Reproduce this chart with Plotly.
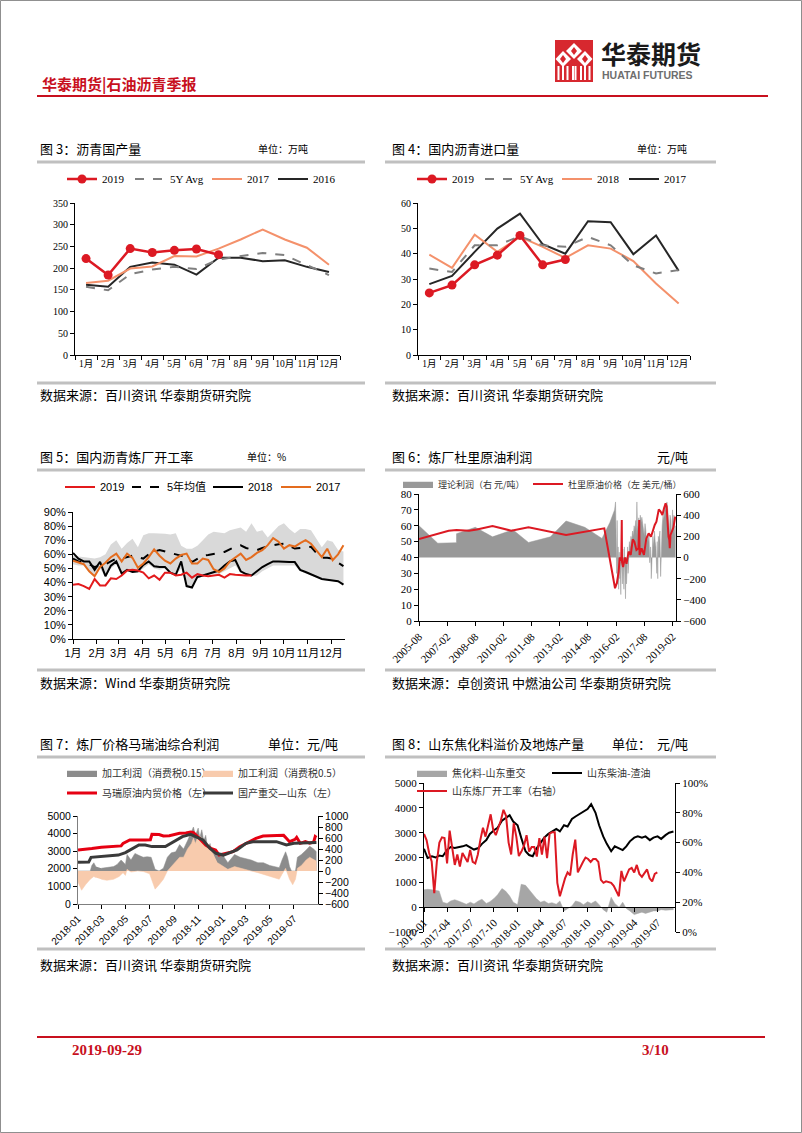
import plotly.graph_objects as go
import pandas as pd

W, H = 802, 1133
def X(px): return px / W
def Y(py): return 1 - py / H

SERIF = "Liberation Serif, Noto Sans CJK SC"
SANS = "Liberation Sans, Noto Sans CJK SC"
CJK = "Noto Sans CJK SC"
RED = "#DC1923"

# ---------------- data ----------------
months = ['1月', '2月', '3月', '4月', '5月', '6月', '7月', '8月', '9月', '10月', '11月', '12月']

# Fig 3 沥青国产量
c3_2019 = [222, 184, 245, 236, 241, 244, 231]
c3_5y = [157, 149, 186, 197, 203, 198, 220, 227, 235, 230, 207, 184]
c3_2017 = [166, 171, 199, 204, 228, 227, 245, 266, 289, 266, 247, 208]
c3_2016 = [162, 157, 203, 213, 208, 185, 224, 224, 216, 218, 203, 191]

# Fig 4 国内沥青进口量
c4_2019 = [24.5, 27.6, 35.6, 39.4, 47.2, 35.6, 37.7]
c4_5y = [34.1, 32.8, 43.3, 43.3, 46.9, 43.3, 42.7, 46.6, 43.3, 35.4, 32.2, 33.5]
c4_2018 = [39.6, 34.4, 47.5, 40.7, 46.6, 42.7, 38.3, 43.3, 42.0, 37.1, 28.2, 20.3]
c4_2017 = [28.0, 31.2, 40.7, 49.9, 55.8, 43.7, 40.0, 52.8, 52.4, 39.8, 47.2, 33.2]

# Fig 5 国内沥青炼厂开工率 (weekly, %)
c5_2019 = [38.5, 39, 37.5, 35.5, 42.5, 38, 38, 43, 42.5, 45, 48.5, 49, 48.5, 47, 43, 45, 42,
           47, 47, 45, 45.5, 47, 43.5, 46, 45, 44.5, 45, 45.5, 43.5, 46, 45.5, 45, 45, 45]
c5_avg = [57, 55, 54, 53, 51, 52, 53, 55, 57, 57, 58, 59, 58, 57, 60, 62, 63, 62, 61, 60, 59.5,
          58, 54.5, 57, 59, 59.5, 60, 61, 61.7, 63.5, 65.5, 66.4, 64.5, 63.5, 63, 64.5, 65.7,
          66.5, 67.2, 67.6, 66, 64.1, 64.5, 65, 65.3, 61, 57.7, 57.5, 57, 54, 51.6]
c5_2018 = [61, 57, 55, 55, 49, 54.7, 44.5, 52, 55, 46.4, 49, 47.5, 48, 52.5, 55, 51.5, 51, 51, 47,
           45.5, 55, 37.5, 36.5, 44, 45, 46, 47.5, 48.5, 52, 55, 56, 48, 46, 45, 48, 51, 53, 55,
           55, 54.5, 54.5, 54.5, 49, 47.5, 46, 44, 42.5, 42, 41.5, 41, 38.5]
c5_2017 = [55.4, 54, 53, 48, 44.5, 51, 54, 58, 60.5, 55, 60.5, 57.5, 50.5, 53.5, 58, 63.5, 59,
           55.5, 53.5, 57, 59.5, 60.5, 53.5, 53.5, 57, 56, 49.5, 47.5, 50, 55, 58, 60.5, 56, 58,
           61, 63, 66.5, 71.5, 69, 64, 66.5, 65.5, 68, 70, 67.5, 63, 58, 64, 55.8, 60, 66.4]
c5_hi = [59, 58.5, 58, 58, 57, 58, 60, 67, 70, 64, 68, 71, 65, 73.5, 75, 75, 75, 74.5, 74, 75, 66,
         64, 64, 66, 70, 74, 76, 75.5, 75, 77, 78, 79, 76, 82, 76, 77, 72, 76, 80, 82, 78, 75,
         78, 78, 77, 71, 65, 70, 69, 63, 62]
c5_lo = [53, 52, 52, 47, 44, 50, 44, 50, 53, 46, 48, 47, 47, 50, 53, 50, 49, 50, 46, 45, 50, 37.5,
         36.5, 43, 44.5, 45.5, 46, 46, 48, 50, 52, 47, 45, 44.5, 45, 48, 50, 52, 52, 52, 52, 52,
         48, 46.5, 45.5, 43.5, 42, 41.5, 41, 40.5, 38]

# Fig 6 炼厂杜里原油利润
c6_price_dates = ['2005-08-01', '2007-03-01', '2007-08-01', '2008-04-01', '2008-09-01', '2009-07-01',
                  '2010-07-01', '2011-06-01', '2013-06-01', '2015-05-01', '2015-06-15', '2016-01-10',
                  '2016-02-15', '2016-03-20', '2016-04-10', '2016-05-10', '2016-05-20', '2016-05-25',
                  '2016-06-15', '2016-07-20', '2016-08-20', '2016-10-01', '2016-11-10', '2016-12-20',
                  '2017-01-20', '2017-03-01', '2017-04-10', '2017-04-25', '2017-05-01', '2017-06-10',
                  '2017-07-25', '2017-09-10', '2017-10-25', '2017-12-10', '2018-01-15', '2018-02-20',
                  '2018-03-25', '2018-04-20', '2018-05-10', '2018-06-15', '2018-07-20', '2018-08-20',
                  '2018-09-20', '2018-10-10', '2018-10-25', '2018-11-15', '2018-12-01', '2018-12-10',
                  '2018-12-25', '2019-01-25', '2019-02-20', '2019-03-25']
c6_price = [51.6, 56.9, 57.3, 56.9, 57.7, 59.8, 56.9, 59.0, 54.2, 58.4, 58.4, 20.6,
            24, 31, 40, 38, 63.6, 37, 34, 40, 36, 43.7, 41.6, 51.4,
            50, 44.7, 45.8, 63.6, 41.6, 45.8, 41.6, 52, 55.2, 53.1, 57.3, 60.5,
            62.6, 67.4, 70.3, 68.9, 66.8, 71, 74.1, 72, 62.6, 53.1, 51, 45.8,
            54.2, 57.3, 59, 65.7]
c6_profit_dates = ['2005-08-01', '2006-08-01', '2007-07-31', '2007-08-01', '2008-08-01', '2009-07-01',
                   '2010-08-01', '2011-06-01', '2012-08-01', '2013-06-01', '2014-06-01', '2015-05-01',
                   '2015-10-01', '2016-01-01', '2016-01-20', '2016-02-01', '2016-02-10', '2016-02-20',
                   '2016-03-01', '2016-03-10', '2016-03-20', '2016-04-01', '2016-04-10', '2016-04-20',
                   '2016-05-01', '2016-05-10', '2016-05-20', '2016-06-01', '2016-06-10', '2016-06-20',
                   '2016-07-01', '2016-07-10', '2016-07-20', '2016-08-01', '2016-08-10', '2016-08-20',
                   '2016-09-01', '2016-09-10', '2016-09-20', '2016-10-01', '2016-10-15', '2016-11-01',
                   '2016-11-15', '2016-12-01', '2016-12-15', '2017-01-01', '2017-01-15', '2017-02-01',
                   '2017-02-15', '2017-03-01', '2017-03-10', '2017-03-20', '2017-04-01', '2017-04-15',
                   '2017-05-01', '2017-05-15', '2017-06-01', '2017-06-15', '2017-07-01', '2017-07-15',
                   '2017-08-01', '2017-08-15', '2017-09-01', '2017-09-15', '2017-10-01', '2017-10-15',
                   '2017-11-01', '2017-11-15', '2017-12-01', '2017-12-15', '2018-01-01', '2018-01-15',
                   '2018-02-01', '2018-02-15', '2018-03-01', '2018-03-15', '2018-04-01', '2018-04-10',
                   '2018-04-20', '2018-05-01', '2018-05-15', '2018-06-01', '2018-06-15', '2018-07-01',
                   '2018-07-15', '2018-08-01', '2018-08-15', '2018-09-01', '2018-09-15', '2018-10-01',
                   '2018-10-15', '2018-11-01', '2018-11-15', '2018-12-01', '2018-12-15', '2019-01-01',
                   '2019-01-15', '2019-02-01', '2019-02-15', '2019-03-01', '2019-03-15', '2019-04-01']
c6_profit = [300, 135, 140, 225, 285, 195,
             262, 142, 195, 345, 285, 180,
             330, 450, 525, 200, -150, 350,
             -250, 100, -300, 50, -200, 0,
             -350, 50, -100, -250, 80, -150,
             -300, 100, -200, -390, 0, -250,
             -100, 100, -150, 50, 150, 100,
             200, 150, 250, 200, 300, 250,
             350, 200, 525, 300, 250, 375,
             300, 400, 330, 380, 300, 250,
             200, 320, 250, 100, 200, 150,
             220, -50, 100, -200, 150, 200,
             100, 250, 150, 100, -150, 150,
             -200, 200, 150, 250, -180, 200,
             300, 400, 350, 450, 500, 430,
             525, 450, 300, 200, 400, 350,
             150, 450, 300, 400, 200, 300]

# Fig 7 炼厂价格马瑞油综合利润
c7_red_dates = ['2018-01-01', '2018-01-20', '2018-02-05', '2018-03-01', '2018-04-20', '2018-04-25',
                '2018-05-12', '2018-06-20', '2018-07-03', '2018-07-07', '2018-07-25', '2018-08-05',
                '2018-08-20', '2018-09-15', '2018-10-01', '2018-10-13', '2018-10-20', '2018-11-04',
                '2018-11-20', '2018-12-03', '2018-12-15', '2018-12-24', '2019-01-10', '2019-01-28',
                '2019-02-14', '2019-03-10', '2019-03-27', '2019-04-14', '2019-05-10', '2019-05-27',
                '2019-06-05', '2019-06-12', '2019-06-20', '2019-07-04', '2019-07-08', '2019-07-17',
                '2019-07-30', '2019-08-10', '2019-08-20', '2019-08-24', '2019-08-27']
c7_red = [3068, 3100, 3150, 3220, 3300, 3447,
          3636, 3636, 3650, 3958, 3950, 3863,
          3880, 4015, 4030, 4090, 4060, 3730,
          3350, 3160, 3068, 2784, 2878, 2973,
          3257, 3541, 3730, 3863, 3880, 3920,
          3900, 3730, 3541, 3674, 3788, 3447,
          3540, 3450, 3520, 3830, 3780]
c7_blk_dates = ['2018-01-01', '2018-01-28', '2018-02-03', '2018-04-13', '2018-05-01', '2018-05-21',
                '2018-06-04', '2018-06-20', '2018-07-07', '2018-08-10', '2018-09-01', '2018-09-22',
                '2018-10-13', '2018-10-27', '2018-11-13', '2018-12-01', '2018-12-16', '2019-01-04',
                '2019-02-07', '2019-03-02', '2019-03-19', '2019-05-18', '2019-06-12', '2019-07-01',
                '2019-08-27']
c7_blk = [2370, 2380, 2650, 2780, 2920, 3200,
          3350, 3350, 3260, 3260, 3540, 3825,
          3960, 3825, 3640, 3160, 2880, 2780,
          3070, 3450, 3540, 3540, 3350, 3450,
          3500]
c7_g_dates = ['2018-01-01', '2018-02-01', '2018-02-05', '2018-02-10', '2018-02-15', '2018-02-18',
              '2018-03-01', '2018-03-15', '2018-04-01', '2018-04-10', '2018-04-20', '2018-05-01',
              '2018-05-05', '2018-05-15', '2018-05-25', '2018-06-05', '2018-06-15', '2018-06-25',
              '2018-07-05', '2018-07-15', '2018-07-25', '2018-08-05', '2018-08-15', '2018-08-25',
              '2018-09-05', '2018-09-15', '2018-09-25', '2018-10-05', '2018-10-15', '2018-10-20',
              '2018-10-25', '2018-11-01', '2018-11-05', '2018-11-10', '2018-11-15', '2018-11-20',
              '2018-11-25', '2018-12-01', '2018-12-05', '2018-12-10', '2018-12-12', '2018-12-20',
              '2019-01-01', '2019-01-15', '2019-02-01', '2019-02-15', '2019-03-01', '2019-03-15',
              '2019-04-01', '2019-04-15', '2019-05-01', '2019-05-15', '2019-05-25', '2019-06-01',
              '2019-06-10', '2019-06-15', '2019-06-20', '2019-06-25', '2019-07-05', '2019-07-10',
              '2019-07-20', '2019-08-01', '2019-08-10', '2019-08-20', '2019-08-27']
c7_g = [0, 0, 100, 150, 80, None,
        50, 60, 80, 120, 200, 120,
        300, 200, 320, 280, 250, 260,
        250, 30, 0, 50, 250, 330,
        350, 480, 400, 550, 700, 800,
        650, 780, 600, 750, 550, 650,
        400, 500, 350, 400, None, 300,
        300, 150, 300, 250, 230, 200,
        150, 150, 100, 80, 60, 200,
        350, 250, 80, 0, 0, 250,
        300, 380, 450, 400, 350]
c7_p_dates = ['2018-01-01', '2018-01-10', '2018-01-20', '2018-02-01', '2018-02-10', '2018-02-15',
              '2018-02-18', '2018-03-01', '2018-03-15', '2018-04-01', '2018-04-15', '2018-04-25',
              '2018-05-01', '2018-05-05', '2018-05-15', '2018-06-01', '2018-06-15', '2018-07-01',
              '2018-07-10', '2018-07-15', '2018-07-25', '2018-08-05', '2018-08-15', '2018-08-25',
              '2018-09-05', '2018-09-15', '2018-09-25', '2018-10-05', '2018-10-15', '2018-10-20',
              '2018-10-25', '2018-11-01', '2018-11-10', '2018-11-20', '2018-12-01', '2018-12-10',
              '2018-12-12', '2018-12-20', '2019-01-01', '2019-01-15', '2019-02-01', '2019-02-15',
              '2019-03-01', '2019-03-15', '2019-04-01', '2019-04-15', '2019-05-01', '2019-05-15',
              '2019-05-25', '2019-06-01', '2019-06-10', '2019-06-20', '2019-06-28', '2019-07-05',
              '2019-07-10', '2019-07-20', '2019-08-01', '2019-08-10', '2019-08-20', '2019-08-27']
c7_p = [-200, -350, -250, -150, -100, -120,
        None, -150, -170, -150, -100, -30,
        -80, 30, -20, 0, -10, -50,
        -250, -330, -250, -150, 0, 80,
        150, 250, 250, 400, 500, 600,
        500, 650, 600, 500, 400, 300,
        None, 150, 100, 30, 80, 50,
        20, 0, -30, -60, -100, -120,
        -150, -60, 50, -150, -250, -150,
        50, 100, 200, 250, 200, 180]

# Fig 8 山东焦化料溢价及地炼产量 (semi-monthly from 2017-01; rate every 10 days)
c8_coke = [700, 720, 700, 690, 650, 200, 150, 250, 300, 250, 180, 120, 200, 130, 250, 320,
           150, 220, 350, 500, 750, 650, 450, 200, 100, 920, 880, 700, 500, 350, 200, 250,
           150, 180, 120, 250, -150, -50, 50, 250, 200, 100, 220, 150, 250, 100, -100, -200,
           400, 150, 0, 200, -50, -150, -300, -250, -200, -250, -200, -150, -150, -100, -120,
           -100, -100]
c8_spread = [2350, 1980, 2050, 2000, 2080, 2050, 2300, 2420, 2380, 2400, 2450, 2500, 2420, 2320,
             2380, 2550, 2700, 2950, 3100, 3200, 3480, 3600, 3700, 3450, 3300, 2800, 2250, 2100,
             2050, 2350, 2600, 2800, 2950, 3050, 3150, 3050, 3300, 3250, 3550, 3650, 3750, 3850,
             3950, 4150, 3800, 3300, 2850, 2550, 2250, 2450, 2350, 2300, 2450, 2650, 2800, 2850,
             2800, 2850, 2700, 2800, 2850, 2750, 2900, 3000, 3050]
c8_rate = [65.8, 61.7, 53, 47.3, 26, 47, 60, 63.5, 63, 46,
           68, 56, 45, 52, 44, 53, 50, 47, 55, 47,
           46, 52, 62, 70, 64, 72, 79, 68.5, 65, 70,
           75, 82, 78, 60, 52, 73, 64, 51, 54, 58,
           65, 54, 57, 57, 50.6, 63, 52, 64, 49.5, 66,
           67, 67, 33, 24, 30, 36, 40, 38, 52, 62,
           40, 44, 47, 50, 49, 47, 49, 49, 47, 35,
           33, 34, 33.5, 33, 31, 27, 24, 41, 34, 38,
           42, 43, 40, 45, 39, 37, 39.5, 42, 36, 34,
           39, 40]

# ---------------- figure ----------------
fig = go.Figure()

def line_tr(x, y, name, xa, ya, leg, color, width=2, dash=None, markers=False, rank=1, lw=None):
    return go.Scatter(x=x, y=y, name=name, xaxis=xa, yaxis=ya, legend=leg, legendrank=rank,
                      legendwidth=lw,
                      mode='lines+markers' if markers else 'lines',
                      line=dict(color=color, width=width, dash=dash),
                      marker=dict(size=9, color=color) if markers else None)

def area_tr(x, y, name, xa, ya, leg, color, rank=1, lw=None):
    return go.Scatter(x=x, y=y, name=name, xaxis=xa, yaxis=ya, legend=leg, legendrank=rank,
                      legendwidth=lw, mode='lines', line=dict(width=0.5, color=color),
                      fill='tozeroy', fillcolor=color)

SALMON = '#F4916B'
GRAYD = '#7F7F7F'
# chart 3
fig.add_trace(line_tr(months, c3_2016, '2016', 'x', 'y', 'legend', '#262626', 2, rank=4))
fig.add_trace(line_tr(months, c3_2017, '2017', 'x', 'y', 'legend', SALMON, 2, rank=3, lw=21))
fig.add_trace(line_tr(months, c3_5y, '5Y Avg', 'x', 'y', 'legend', GRAYD, 2, dash='dash', rank=2, lw=32))
fig.add_trace(line_tr(months[:len(c3_2019)], c3_2019, '2019', 'x', 'y', 'legend', RED, 2.5,
                      markers=True, rank=1, lw=23))
# chart 4
fig.add_trace(line_tr(months, c4_2017, '2017', 'x2', 'y2', 'legend2', '#262626', 2, rank=4))
fig.add_trace(line_tr(months, c4_2018, '2018', 'x2', 'y2', 'legend2', SALMON, 2, rank=3, lw=22))
fig.add_trace(line_tr(months, c4_5y, '5Y Avg', 'x2', 'y2', 'legend2', GRAYD, 2, dash='dash', rank=2, lw=32))
fig.add_trace(line_tr(months[:len(c4_2019)], c4_2019, '2019', 'x2', 'y2', 'legend2', RED, 2.5,
                      markers=True, rank=1, lw=23))
# chart 5
wk = pd.date_range('2019-01-01', periods=len(c5_2018), freq='7D')
fig.add_trace(go.Scatter(x=wk, y=c5_lo, xaxis='x3', yaxis='y3', mode='lines', line=dict(width=0, color='#D9D9D9'),
                         showlegend=False, legend='legend3'))
fig.add_trace(go.Scatter(x=wk, y=c5_hi, xaxis='x3', yaxis='y3', mode='lines', line=dict(width=0, color='#D9D9D9'),
                         fill='tonexty', fillcolor='#D9D9D9', showlegend=False, legend='legend3'))
fig.add_trace(line_tr(wk, c5_2018, '2018', 'x3', 'y3', 'legend3', '#000000', 2, rank=3, lw=23))
fig.add_trace(line_tr(wk, c5_avg, '5年均值', 'x3', 'y3', 'legend3', '#000000', 2, dash='dash', rank=2, lw=36))
fig.add_trace(line_tr(wk, c5_2017, '2017', 'x3', 'y3', 'legend3', '#E46C1E', 2, rank=4))
fig.add_trace(line_tr(wk[:len(c5_2019)], c5_2019, '2019', 'x3', 'y3', 'legend3', '#E31A1C', 2, rank=1, lw=22))
# chart 6
fig.add_trace(area_tr(c6_profit_dates, c6_profit, '理论利润（右 元/吨）', 'x4', 'y4', 'legend4', '#999999',
                      rank=1, lw=85))
fig.add_trace(line_tr(c6_price_dates, c6_price, '杜里原油价格（左 美元/桶）', 'x4', 'y5', 'legend4', RED, 2, rank=2))
# chart 7
fig.add_trace(area_tr(c7_g_dates, c7_g, '加工利润（消费税0.15）', 'x5', 'y6', 'legend5', '#8C8C8C', rank=1, lw=91))
fig.add_trace(area_tr(c7_p_dates, c7_p, '加工利润（消费税0.5）', 'x5', 'y6', 'legend5', '#F8CBAD', rank=2))
fig.add_trace(line_tr(c7_red_dates, c7_red, '马瑞原油内贸价格（左）', 'x5', 'y7', 'legend6', '#E60012', 3,
                      rank=1, lw=91))
fig.add_trace(line_tr(c7_blk_dates, c7_blk, '国产重交—山东（左）', 'x5', 'y7', 'legend6', '#3A3A3A', 3, rank=2))
# chart 8
sm = pd.date_range('2017-01-01', periods=len(c8_coke), freq='SMS')
tend = pd.date_range('2017-01-01', periods=len(c8_rate), freq='10D')
fig.add_trace(area_tr(sm, c8_coke, '焦化料-山东重交', 'x6', 'y8', 'legend7', '#A6A6A6', rank=1, lw=90))
fig.add_trace(line_tr(sm, c8_spread, '山东柴油-渣油', 'x6', 'y8', 'legend7', '#000000', 2, rank=2))
fig.add_trace(line_tr(tend, [v / 100 for v in c8_rate], '山东炼厂开工率（右轴）', 'x6', 'y9', 'legend8', RED, 2, rank=1))

# ---------------- axes ----------------
def ax(**kw):
    d = dict(showgrid=False, zeroline=False, showline=True, linecolor='#000', linewidth=1,
             ticks='outside', ticklen=4, tickcolor='#000', tickwidth=1, fixedrange=True,
             automargin=False)
    d.update(kw)
    return d

tf_serif = dict(family=SERIF, size=10, color='#000')
tf_sans = dict(family=SANS, size=11, color='#000')
tf_serif11 = dict(family=SERIF, size=11, color='#000')

layout_axes = dict(
    xaxis=ax(domain=[X(75), X(340)], anchor='y', type='category', categoryorder='array',
             categoryarray=months, tickson='boundaries', range=[-0.5, 11.5], tickangle=0,
             tickfont=dict(family=SERIF, size=9.5, color='#000')),
    yaxis=ax(domain=[Y(355), Y(203)], anchor='x', range=[0, 350], dtick=50, tickfont=tf_serif),
    xaxis2=ax(domain=[X(418), X(690)], anchor='y2', type='category', categoryorder='array',
              categoryarray=months, tickson='boundaries', range=[-0.5, 11.5], tickangle=0,
              tickfont=dict(family=SERIF, size=9.5, color='#000')),
    yaxis2=ax(domain=[Y(355), Y(203)], anchor='x2', range=[0, 60], dtick=10, tickfont=tf_serif),
    xaxis3=ax(domain=[X(73), X(345)], anchor='y3', type='date', range=['2019-01-01', '2019-12-19'],
              tickvals=list(pd.date_range('2019-01-01', periods=12, freq='MS')), ticktext=months,
              tickangle=0, tickfont=tf_sans),
    yaxis3=ax(domain=[Y(639), Y(512)], anchor='x3', range=[0, 90], dtick=10, ticksuffix='%',
              tickfont=tf_sans),
    xaxis4=ax(domain=[X(419), X(676)], anchor='y4', type='date', range=['2005-08-01', '2019-04-10'],
              tickvals=list(pd.date_range('2005-08-01', '2019-02-01', freq='18MS')), tickformat='%Y-%m',
              tickangle=-45, tickfont=tf_serif11),
    yaxis4=ax(domain=[Y(621), Y(494)], anchor='x4', side='right', range=[-600, 600], dtick=200,
              tickfont=tf_serif11),
    yaxis5=ax(overlaying='y4', anchor='x4', side='left', range=[0, 80], dtick=10, tickfont=tf_serif11),
    xaxis5=ax(domain=[X(78), X(318)], anchor='y6', type='date', range=['2018-01-01', '2019-08-31'],
              tick0='2018-01-01', dtick='M2', tickformat='%Y-%m', tickangle=-45,
              tickfont=dict(family=SANS, size=10, color='#000'), linecolor='#7F7F7F'),
    yaxis6=ax(domain=[Y(904), Y(816)], anchor='x5', side='right', range=[-600, 1000], dtick=200,
              tickfont=dict(family=SANS, size=10.5, color='#000')),
    yaxis7=ax(overlaying='y6', anchor='x5', side='left', range=[0, 5000], dtick=1000,
              tickfont=dict(family=SANS, size=10.5, color='#000'), linecolor='#7F7F7F'),
    xaxis6=ax(domain=[X(424), X(675)], anchor='free', position=Y(907), type='date',
              range=['2017-01-01', '2019-09-07'], tick0='2017-01-01', dtick='M3', tickformat='%Y-%m',
              tickangle=-45, tickfont=tf_serif11),
    yaxis8=ax(domain=[Y(932), Y(783)], anchor='x6', side='left', range=[-1000, 5000], dtick=1000,
              tickfont=tf_serif11),
    yaxis9=ax(overlaying='y8', anchor='x6', side='right', range=[0, 1], dtick=0.2, tickformat='.0%',
              tickfont=tf_serif11),
)

def leg(x, y, font):
    return dict(x=X(x), y=Y(y), xanchor='left', yanchor='middle', orientation='h',
                bgcolor='rgba(0,0,0,0)', font=font, itemclick=False, itemdoubleclick=False,
                traceorder='normal', borderwidth=0)

legends = dict(
    legend=leg(62, 179, dict(family=SERIF, size=11, color='#000')),
    legend2=leg(412, 179, dict(family=SERIF, size=11, color='#000')),
    legend3=leg(60, 487, dict(family=SANS, size=11, color='#000')),
    legend4=leg(398, 484, dict(family=CJK, size=9, color='#333')),
    legend5=leg(62, 773, dict(family=CJK, size=10, color='#333')),
    legend6=leg(62, 793, dict(family=CJK, size=10, color='#333')),
    legend7=leg(412, 773, dict(family=CJK, size=10, color='#333')),
    legend8=leg(412, 791, dict(family=CJK, size=10, color='#333')),
)

# ---------------- text ----------------
ann = []
def txt(x, y, s, size=13, color='#000', family=CJK, anchor='left'):
    ann.append(dict(x=X(x), y=Y(y), xref='paper', yref='paper', text=s, showarrow=False,
                    xanchor=anchor, yanchor='middle', font=dict(family=family, size=size, color=color)))

txt(40, 84, '<b>华泰期货|石油沥青季报</b>', 15, '#C8101E')
txt(599, 53, '<b>华泰期货</b>', 25, '#1A1A1A')
txt(600, 75, '<b>HUATAI FUTURES</b>', 10.5, '#6E6E6E', SANS)
txt(70, 1050, '<b>2019-09-29</b>', 15, '#C8101E', 'Liberation Serif')
txt(640, 1050, '<b>3/10</b>', 15, '#C8101E', 'Liberation Serif')

txt(38, 148, '图 3：沥青国产量', 13)
txt(256, 148, '单位：万吨', 10)
txt(390, 148, '图 4：国内沥青进口量', 13)
txt(635, 148, '单位：万吨', 10)
txt(38, 456, '图 5：国内沥青炼厂开工率', 13)
txt(245, 456, '单位：%', 10)
txt(390, 456, '图 6：炼厂杜里原油利润', 13)
txt(690, 456, '元/吨', 13, anchor='right')
txt(38, 743, '图 7：炼厂价格马瑞油综合利润', 13)
txt(340, 743, '单位：元/吨', 13, anchor='right')
txt(390, 743, '图 8：山东焦化料溢价及地炼产量', 13)
txt(610, 743, '单位：', 13)
txt(690, 743, '元/吨', 13, anchor='right')

txt(38, 394, '数据来源：百川资讯 华泰期货研究院', 13)
txt(390, 394, '数据来源：百川资讯 华泰期货研究院', 13)
txt(38, 682, '数据来源：Wind 华泰期货研究院', 13)
txt(390, 682, '数据来源：卓创资讯 中燃油公司 华泰期货研究院', 13)
txt(38, 964, '数据来源：百川资讯 华泰期货研究院', 13)
txt(390, 964, '数据来源：百川资讯 华泰期货研究院', 13)

# ---------------- shapes ----------------
shapes = []
def hline(x0, x1, y, color, width):
    shapes.append(dict(type='line', xref='paper', yref='paper', x0=X(x0), x1=X(x1), y0=Y(y), y1=Y(y),
                       line=dict(color=color, width=width)))

def poly(pts, color):
    p = 'M' + 'L'.join(f'{X(a):.5f},{Y(b):.5f}' for a, b in pts) + 'Z'
    shapes.append(dict(type='path', xref='paper', yref='paper', path=p, fillcolor=color,
                       line=dict(width=0)))

shapes.append(dict(type='rect', xref='paper', yref='paper', x0=0.0006, x1=0.9994, y0=0.0004, y1=0.9996,
                   line=dict(color='#8C8C8C', width=1)))
hline(37, 768, 96, '#C8101E', 2)
hline(37, 765, 1037, '#C8101E', 2)
for yy in (162, 383, 470, 670, 757, 949):
    hline(37, 365, yy, '#C0C0C0', 3)
    hline(385, 716, yy, '#C0C0C0', 3)

# logo
poly([(555, 40), (593, 40), (593, 82), (555, 82)], '#D7282F')
poly([(574, 43), (582, 51), (574, 59), (566, 51)], 'white')
poly([(563, 51), (571, 59), (563, 67), (555.5, 59)], 'white')
poly([(585, 51), (592.5, 59), (585, 67), (577, 59)], 'white')
poly([(574, 47), (577, 51), (574, 55), (571, 51)], '#D7282F')
poly([(563, 55), (566, 59), (563, 63), (560, 59)], '#D7282F')
poly([(585, 55), (588, 59), (585, 63), (582, 59)], '#D7282F')
for bx in (558.5, 563, 567.5, 573, 575.5, 581, 585, 589.5):
    poly([(bx - 1, 66), (bx + 1, 66), (bx + 1, 80), (bx - 1, 80)], 'white')

fig.update_layout(template='none', width=W, height=H, autosize=False, margin=dict(l=0, r=0, t=0, b=0, pad=0),
                  paper_bgcolor='white', plot_bgcolor='white', hovermode=False,
                  annotations=ann, shapes=shapes, **layout_axes, **legends)

fig.write_html('out.html', config={'displayModeBar': False},
               post_script="document.body.style.margin='0';document.body.style.overflow='hidden';")
